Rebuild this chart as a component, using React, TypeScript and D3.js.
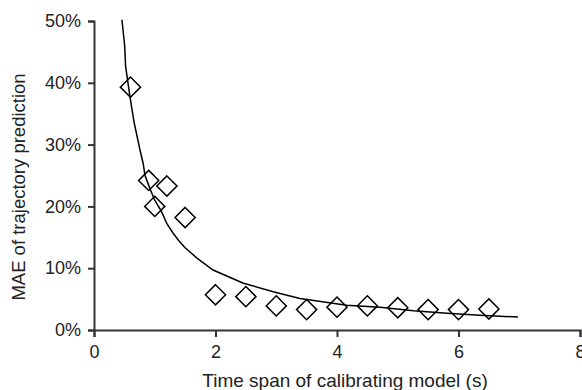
import React, { useEffect, useRef } from 'react'
import * as d3 from 'd3'

// measured points (time span s, MAE fraction)
const spanX = [0.6, 0.9, 1.0, 1.2, 1.5, 2.0, 2.5, 3.0, 3.5, 4.0, 4.5, 5.0, 5.5, 6.0, 6.5]
const maeY = [0.393, 0.242, 0.200, 0.233, 0.182, 0.057, 0.054, 0.039, 0.033, 0.037, 0.039, 0.036, 0.033, 0.033, 0.034]

// fitted curve
const fitX = [0.46, 0.505, 0.52, 0.59, 0.66, 0.76, 0.81, 0.84, 0.92, 1.0, 1.11, 1.2, 1.3, 1.4, 1.5, 1.7, 1.96, 2.45, 2.95, 3.39, 4.16, 4.71, 5.26, 5.81, 6.35, 6.98]
const fitY = [0.502, 0.46, 0.427, 0.379, 0.336, 0.29, 0.269, 0.25, 0.229, 0.21, 0.192, 0.172, 0.157, 0.144, 0.133, 0.116, 0.097, 0.076, 0.062, 0.051, 0.040, 0.037, 0.031, 0.027, 0.024, 0.021]

const xTicks = [0, 2, 4, 6, 8]
const yTicks = [0, 0.1, 0.2, 0.3, 0.4, 0.5]

const xTitle = 'Time span of calibrating model (s)'
const yTitle = 'MAE of trajectory prediction'

export default function App() {
  const ref = useRef<SVGSVGElement>(null)

  useEffect(() => {
    const svg = d3.select(ref.current)
    svg.selectAll('*').remove()

    const x = d3.scaleLinear().domain([0, 8]).range([94, 580])
    const y = d3.scaleLinear().domain([0, 0.5]).range([330, 21])
    const font = 'Liberation Sans, Arial, sans-serif'
    const axisColor = '#333'

    // x axis
    const gx = svg.append('g').attr('transform', `translate(0,${y(0)})`)
      .call(d3.axisBottom(x).tickValues(xTicks).tickSize(7).tickPadding(8).tickFormat(d3.format('d')))
    gx.select('.domain').attr('stroke', axisColor).attr('stroke-width', 2)
    gx.selectAll('line').attr('stroke', axisColor).attr('stroke-width', 2)
    gx.selectAll('text').attr('font-family', font).attr('font-size', 18).attr('fill', '#222')

    // y axis
    const gy = svg.append('g').attr('transform', `translate(${x(0)},0)`)
      .call(d3.axisLeft(y).tickValues(yTicks).tickSize(6).tickPadding(7).tickFormat(d3.format('.0%')))
    gy.select('.domain').attr('stroke', axisColor).attr('stroke-width', 2)
    gy.selectAll('line').attr('stroke', axisColor).attr('stroke-width', 2)
    gy.selectAll('text').attr('font-family', font).attr('font-size', 18).attr('fill', '#222')

    // fitted curve
    const line = d3.line<number>().x((d) => x(d)).y((d, i) => y(fitY[i]))
    svg.append('path').attr('d', line(fitX))
      .attr('fill', 'none').attr('stroke', 'black').attr('stroke-width', 1.5)

    // diamonds
    const sym = d3.symbol().type(d3.symbolDiamond2).size(260)
    svg.append('g').selectAll('path')
      .data(spanX).enter().append('path')
      .attr('d', sym)
      .attr('transform', (d, i) => `translate(${x(d)},${y(maeY[i])})`)
      .attr('fill', 'none').attr('stroke', 'black').attr('stroke-width', 1.5)

    // titles
    svg.append('text')
      .attr('x', 345).attr('y', 387)
      .attr('text-anchor', 'middle')
      .attr('font-family', font).attr('font-size', 19).attr('fill', '#222')
      .text(xTitle)

    svg.append('text')
      .attr('transform', 'translate(25,187) rotate(-90)')
      .attr('text-anchor', 'middle')
      .attr('font-family', font).attr('font-size', 18.5).attr('fill', '#222')
      .text(yTitle)
  }, [])

  return (
    <svg ref={ref} width={582} height={390}
      style={{ position: 'absolute', left: 0, top: 0, background: 'white' }} />
  )
}
